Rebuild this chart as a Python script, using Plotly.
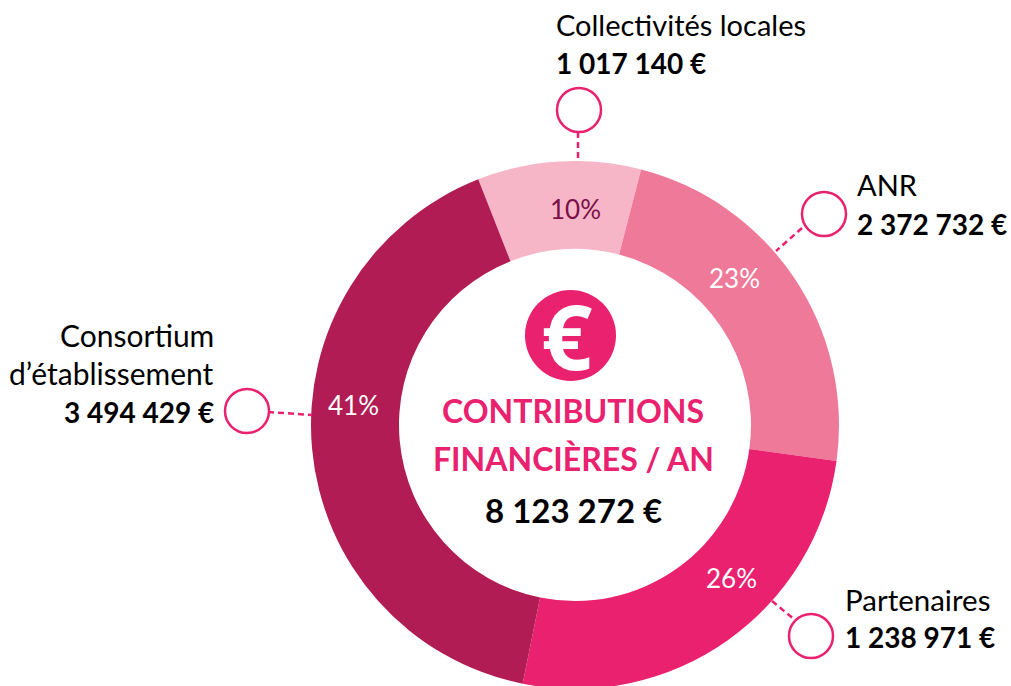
import plotly.graph_objects as go

categories = ["Collectivités locales", "ANR", "Partenaires", "Consortium d'établissement"]
shares = [10.0, 23.15, 26.0, 40.85]
share_labels = ["10%", "23%", "26%", "41%"]
amounts = ["1 017 140 €", "2 372 732 €", "1 238 971 €", "3 494 429 €"]
colors = ["#F6B6C7", "#EF7999", "#E9216F", "#B11C54"]
total = "8 123 272 €"

W, H = 1011, 720
PINK = "#E9216F"
FONT = "Lato"

cx, cy, R = 575, 425, 264


def X(p):
    return p / W


def Y(p):
    return 1 - p / H


fig = go.Figure(go.Pie(
    labels=categories,
    values=shares,
    sort=False,
    direction="clockwise",
    rotation=338.5,
    hole=176 / 264,
    textinfo="none",
    hoverinfo="skip",
    marker=dict(colors=colors, line=dict(width=0)),
    showlegend=False,
    domain=dict(x=[X(cx - R), X(cx + R)], y=[Y(cy + R), Y(cy - R)]),
))


def note(x, y, text, size=29, color="black", bold=False, anchor="left", family=FONT):
    fig.add_annotation(
        x=X(x), y=Y(y), xref="paper", yref="paper", text=f"<b>{text}</b>" if bold else text,
        showarrow=False, xanchor=anchor, yanchor="middle",
        font=dict(family=family, size=size, color=color),
        borderpad=0, borderwidth=0,
    )


def ring(x, y, r=22):
    fig.add_shape(type="circle", xref="paper", yref="paper",
                  x0=X(x - r), x1=X(x + r), y0=Y(y + r), y1=Y(y - r),
                  line=dict(color=PINK, width=2.5), fillcolor="white")


def dash(x0, y0, x1, y1):
    fig.add_shape(type="line", xref="paper", yref="paper",
                  x0=X(x0), y0=Y(y0), x1=X(x1), y1=Y(y1),
                  line=dict(color=PINK, width=2.5, dash="6px,4px"))


# leader lines and rings
dash(578, 132, 578, 161)
ring(579, 110)
dash(802, 228, 776, 251)
ring(824, 214)
dash(772, 601, 795, 620)
ring(811, 636)
dash(268, 412, 312, 415)
ring(247, 411)

# percentages
note(575, 209, share_labels[0], size=26, color="#7A0F4A", anchor="center")
note(734, 278, share_labels[1], size=26, color="white", anchor="center")
note(731, 578, share_labels[2], size=26, color="white", anchor="center")
note(353, 405, share_labels[3], size=26, color="white", anchor="center")

# outside labels
note(556, 25, categories[0])
note(556, 63, amounts[0], size=28, bold=True)
note(857, 185, categories[1])
note(857, 224, amounts[1], size=28, bold=True)
note(845, 599, categories[2], size=29.5)
note(845, 637, amounts[2], size=28, bold=True)
note(214, 335, "Consortium", size=30, anchor="right")
note(214, 373, "d’établissement", size=30, anchor="right")
note(214, 412, amounts[3], size=28, bold=True, anchor="right")

# centre
fig.add_shape(type="circle", xref="paper", yref="paper",
              x0=X(525), x1=X(616), y0=Y(381), y1=Y(290),
              line=dict(width=0), fillcolor=PINK)
note(566, 335, "€", size=90, color="white", bold=True, anchor="center", family="Noto Sans")
note(573, 410, "CONTRIBUTIONS", size=32, color=PINK, bold=True, anchor="center")
note(573, 458, "FINANCIÈRES / AN", size=32, color=PINK, bold=True, anchor="center")
note(573, 510, total, size=33, bold=True, anchor="center")

fig.update_layout(
    width=W, height=H, autosize=False,
    margin=dict(l=0, r=0, t=0, b=0),
    paper_bgcolor="white", plot_bgcolor="white",
    font=dict(family=FONT),
)

fig.write_html(
    "out.html",
    config=dict(displayModeBar=False),
    post_script="document.body.style.margin='0';document.body.style.overflow='hidden';"
                "document.documentElement.style.overflow='hidden';",
)
